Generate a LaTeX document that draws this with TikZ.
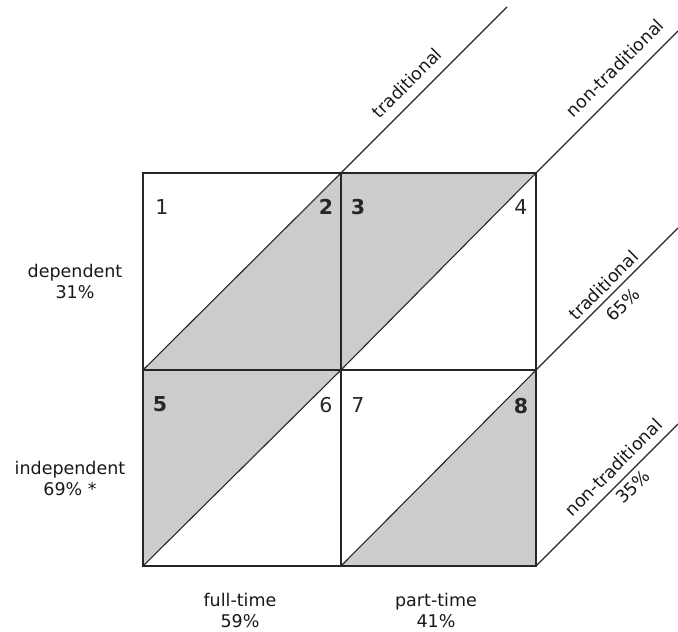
\documentclass[tikz,border=0pt]{standalone}
\usepackage{fontspec}
\setmainfont{DejaVu Sans}
\begin{document}
\begin{tikzpicture}[x=1pt,y=-1pt,
  boxline/.style={draw=black!85,line width=1.8pt},
  diagline/.style={draw=black!85,line width=1.1pt},
  shade/.style={fill=black!20},
  lab/.style={font=\fontsize{17.5}{21}\selectfont,text=black!90,align=center,inner sep=0pt},
  rlab/.style={lab,font=\fontsize{17.5}{27}\selectfont,rotate=45},
  num/.style={font=\fontsize{20.5}{22}\selectfont,text=black!85,inner sep=0pt},
  bnum/.style={num,font=\fontsize{20.5}{22}\selectfont\bfseries}]
\useasboundingbox (0,0) rectangle (678,632);
% corners
\coordinate (tl) at (143,173);
\coordinate (tm) at (341,173);
\coordinate (tr) at (536,173);
\coordinate (ml) at (143,370);
\coordinate (mm) at (341,370);
\coordinate (mr) at (536,370);
\coordinate (bl) at (143,566);
\coordinate (bm) at (341,566);
\coordinate (br) at (536,566);
% free ends of the extension lines
\coordinate (e1) at (507,7);
\coordinate (e2) at (678,31);
\coordinate (e3) at (678,228);
\coordinate (e4) at (678,424);
% shaded triangles
\fill[shade] (ml) -- (tm) -- (mm) -- cycle;
\fill[shade] (tm) -- (tr) -- (mm) -- cycle;
\fill[shade] (ml) -- (mm) -- (bl) -- cycle;
\fill[shade] (bm) -- (mr) -- (br) -- cycle;
% diagonals
\draw[diagline] (ml) -- (tm) -- (e1);
\draw[diagline] (mm) -- (tr) -- (e2);
\draw[diagline] (bl) -- (mm);
\draw[diagline] (bm) -- (mr) -- (e3);
\draw[diagline] (br) -- (e4);
% grid
\draw[boxline] (tl) rectangle (br);
\draw[diagline,line width=1.4pt] (tm) -- (bm);
\draw[diagline,line width=1.4pt] (ml) -- (mr);
% cell numbers
\node[num]  (n1) at (162,207) {1};
\node[bnum] (n2) at (326,207) {2};
\node[bnum] (n3) at (358,207) {3};
\node[num]  (n4) at (521,207) {4};
\node[bnum] (n5) at (160,404) {5};
\node[num]  (n6) at (326,405) {6};
\node[num]  (n7) at (358,405) {7};
\node[bnum] (n8) at (521,406) {8};
% labels
\node[lab] (dep) at (75,281) {dependent\\31\%};
\node[lab] (ind) at (70,478) {independent\\69\% *};
\node[lab] (ft) at (240,610) {full-time\\59\%};
\node[lab] (pt) at (436,610) {part-time\\41\%};
\node[lab,rotate=45] (trt) at (407,83) {traditional};
\node[lab,rotate=45] (ntt) at (615,68) {non-traditional};
\node[rlab] (trr) at (613,295) {traditional\\65\%};
\node[rlab] (ntr) at (623,477) {non-traditional\\35\%};
\end{tikzpicture}
\end{document}
